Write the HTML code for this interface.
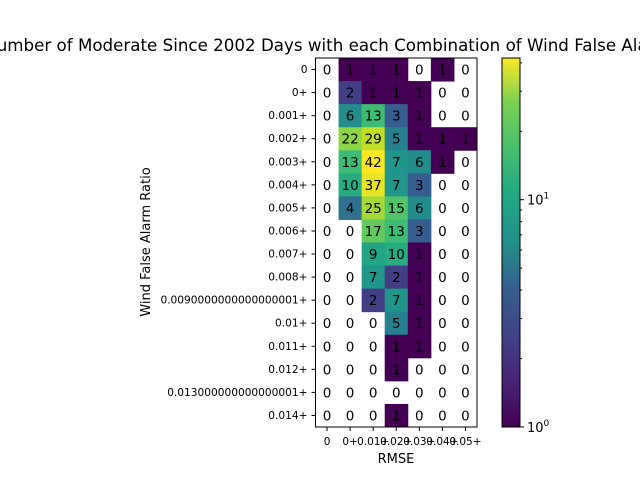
<!DOCTYPE html>
<html><head><meta charset="utf-8"><style>
body{margin:0;background:#fff;width:640px;height:480px;overflow:hidden;font-family:"Liberation Sans","DejaVu Sans",sans-serif}
svg text{font-family:"DejaVu Sans","Liberation Sans",sans-serif}
</style></head><body>
<svg id="c" width="640" height="480">
<defs><linearGradient id="vg" x1="0" y1="1" x2="0" y2="0">
<stop offset="0" stop-color="#440154"/><stop offset="0.13" stop-color="#482475"/><stop offset="0.25" stop-color="#414487"/><stop offset="0.38" stop-color="#355f8d"/><stop offset="0.5" stop-color="#21918c"/><stop offset="0.63" stop-color="#22a884"/><stop offset="0.75" stop-color="#44bf70"/><stop offset="0.88" stop-color="#7ad151"/><stop offset="1" stop-color="#fde725"/></linearGradient></defs>
</svg>
<script>
const xLabels=["0","0+","0.01+","0.02+","0.03+","0.04+","0.05+"];
const yLabels=["0","0+","0.001+","0.002+","0.003+","0.004+","0.005+","0.006+","0.007+","0.008+","0.0090000000000000001+","0.01+","0.011+","0.012+","0.013000000000000001+","0.014+"];
const counts=[
[0,1,1,1,0,1,0],[0,2,1,1,1,0,0],[0,6,13,3,1,0,0],[0,22,29,5,1,1,1],
[0,13,42,7,6,1,0],[0,10,37,7,3,0,0],[0,4,25,15,6,0,0],[0,0,17,13,3,0,0],
[0,0,9,10,1,0,0],[0,0,7,2,1,0,0],[0,0,2,7,1,0,0],[0,0,0,5,1,0,0],
[0,0,0,1,1,0,0],[0,0,0,1,0,0,0],[0,0,0,0,0,0,0],[0,0,0,1,0,0,0]];
const vmax=42;
const svg=document.getElementById('c');const NS='http://www.w3.org/2000/svg';
function mk(t,a,p){const e=document.createElementNS(NS,t);for(const k in a)e.setAttribute(k,a[k]);(p||svg).appendChild(e);return e;}
const X0=315.5,X1=477,Y0=58,Y1=427;
const cw=(X1-X0)/xLabels.length,ch=(Y1-Y0)/yLabels.length;
const xs=i=>X0+i*cw, ys=j=>Y0+j*ch;
const vir=[[68,1,84],[72,36,117],[65,68,135],[53,95,141],[42,120,142],[33,145,140],[34,168,132],[68,191,112],[122,209,81],[189,223,38],[253,231,37]];
function color(v){let t=Math.log(v)/Math.log(vmax);t=Math.max(0,Math.min(1,t))*(vir.length-1);const i=Math.min(Math.floor(t),vir.length-2),f=t-i;const c=vir[i].map((a,k)=>Math.round(a+(vir[i+1][k]-a)*f));return `rgb(${c})`;}
counts.forEach((row,j)=>row.forEach((v,i)=>{
 if(v>0){const r=mk('rect',{x:xs(i),y:ys(j),width:cw+0.5,height:ch+0.5,fill:color(v)});
 
 }
 const t=mk('text',{x:xs(i)+cw/2,y:ys(j)+ch/2+5,'text-anchor':'middle','font-size':13.5,fill:'#000'});t.textContent=v;
 
 
}));
mk('rect',{x:X0,y:Y0,width:X1-X0,height:Y1-Y0,fill:'none',stroke:'#000','stroke-width':1});
xLabels.forEach((l,i)=>{const x=xs(i)+cw/2;mk('line',{x1:x,x2:x,y1:Y1,y2:Y1+4,stroke:'#000'});
 const t=mk('text',{x:x,y:Y1+18,'text-anchor':'middle','font-size':10.5});t.textContent=l;
 
 });
yLabels.forEach((l,j)=>{const y=ys(j)+ch/2;mk('line',{x1:X0-4,x2:X0,y1:y,y2:y,stroke:'#000'});
 const t=mk('text',{x:X0-8,y:y+3.5,'text-anchor':'end','font-size':10.6});t.textContent=l;
 
 });
let t=mk('text',{x:396,y:463,'text-anchor':'middle','font-size':13});t.textContent='RMSE';

t=mk('text',{x:150,y:242,'text-anchor':'middle','font-size':13,transform:'rotate(-90 150 242)'});t.textContent='Wind False Alarm Ratio';

t=mk('text',{x:396,y:51,'text-anchor':'middle','font-size':16.7});t.textContent='Number of Moderate Since 2002 Days with each Combination of Wind False Alarm Ratio and RMSE';

// colorbar
const C0=502,C1=520;
const cb=mk('rect',{x:C0,y:Y0,width:C1-C0,height:Y1-Y0,fill:'url(#vg)',stroke:'#000','stroke-width':1});

const cy=v=>Y1-(Math.log(v)/Math.log(vmax))*(Y1-Y0);
[[1,'0'],[10,'1']].forEach(([v,e])=>{const y=cy(v);mk('line',{x1:C1,x2:C1+4,y1:y,y2:y,stroke:'#000'});
 const tt=mk('text',{x:C1+7,y:y+5,'font-size':13});tt.innerHTML='10<tspan dy="-6" font-size="9">'+e+'</tspan>';
 });
[2,3,4,5,6,7,8,9,20,30,40].forEach(v=>{const y=cy(v);mk('line',{x1:C1,x2:C1+2,y1:y,y2:y,stroke:'#000'});});
</script>
</body></html>
